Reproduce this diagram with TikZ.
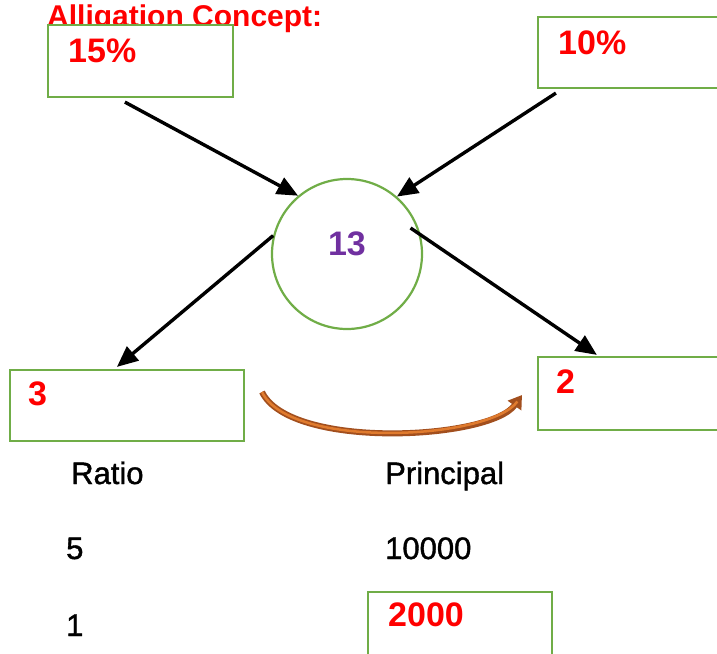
\documentclass[tikz,border=0pt]{standalone}
\usepackage{fontspec}
\setmainfont{Liberation Sans}
\newfontfamily\medfont[FakeBold=1.3]{Liberation Sans}
\usepackage{xcolor}
\usetikzlibrary{arrows.meta}

\definecolor{boxgreen}{HTML}{70AD47}
\definecolor{numpurple}{HTML}{7030A0}
\definecolor{arcbrown}{HTML}{A24F1E}
\definecolor{arcorange}{HTML}{E07B2E}

\tikzset{
  box/.style={draw=boxgreen,line width=2.2pt,fill=white,rectangle,inner sep=0pt},
  valtext/.style={text=red,font=\fontsize{34}{36}\selectfont\bfseries,inner sep=0pt,anchor=base west},
  plaintext/.style={text=black,font=\medfont\fontsize{31}{33}\selectfont,inner sep=0pt,anchor=base west},
  arr/.style={-{Triangle[length=21pt,width=18pt]},line width=3.4pt,black}
}

\begin{document}
\begin{tikzpicture}[x=1pt,y=-1pt]
		\useasboundingbox (0,0) rectangle (717,653);
		\clip (0,0) rectangle (717,653);
		% title
		\node[text=red,font=\fontsize{30}{32}\selectfont\bfseries,inner sep=0pt,anchor=base west] (title) at (47,26) {Alligation Concept:};
		%
		\node[box,minimum width=185pt,minimum height=72pt] (p15) at (140.5,61) {};
		\node[box,minimum width=190pt,minimum height=71pt] (p10) at (633,52.5) {};
		\node[draw=boxgreen,line width=2.2pt,circle,minimum size=150pt,inner sep=0pt] (c13) at (347,254) {};
		\node[box,minimum width=234pt,minimum height=71pt] (r3) at (127,405.5) {};
		\node[box,minimum width=190pt,minimum height=73pt] (r2) at (633,393.5) {};
		\node[box,minimum width=184pt,minimum height=78pt] (p2000) at (460,631) {};
		%
		\node[valtext] (t15) at (68,62) {15\%};
		\node[valtext] (t10) at (558,54) {10\%};
		\node[valtext,text=numpurple,anchor=base] (t13) at (347,255) {13};
		\node[valtext] (t3) at (28,405) {3};
		\node[valtext] (t2) at (556,393) {2};
		\node[valtext] (t2000) at (388,626) {2000};
		%
		\node[plaintext] (ratio) at (71,484) {Ratio};
		\node[plaintext] (principal) at (385,484) {Principal};
		\node[plaintext] (r5) at (66,559) {5};
		\node[plaintext] (pr10000) at (385,559) {10000};
		\node[plaintext] (r1) at (66,636) {1};
		%
		\coordinate (arcstart) at (262,392);
		\coordinate (arcend) at (522,395);
		%
		% arrows into the circle
		\draw[arr] ([xshift=78pt,yshift=-4pt]p15.south west) -- (c13.130);
		\draw[arr] ([xshift=19pt,yshift=-4pt]p10.south west) -- (c13.49);
		% arrows out of the circle
		\draw[arr] (c13.166) -- ([xshift=108pt,yshift=2pt]r3.north west);
		\draw[arr] ([xshift=-8pt]c13.20) -- ([xshift=60pt,yshift=1pt]r2.north west);
		% curved arrow
		\draw[arcbrown,line width=6pt,-{Triangle[length=13pt,width=16pt]}]
		(arcstart) .. controls (290,450) and (490,440) .. (arcend);
		\draw[arcorange,line width=2.5pt,shorten >=8pt]
		(arcstart) .. controls (290,450) and (490,440) .. (arcend);
\end{tikzpicture}
\end{document}
